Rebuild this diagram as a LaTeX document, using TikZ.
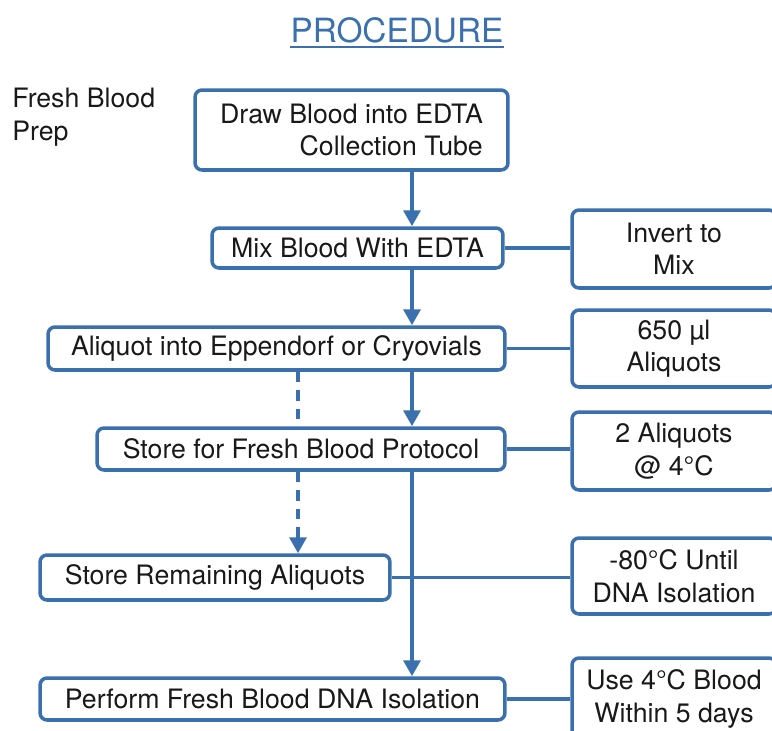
\documentclass[tikz,border=0pt]{standalone}
\usepackage{fontspec}
\setmainfont{TeX Gyre Heros}
\usepackage{xcolor}
\usepackage{tikz}
\definecolor{flowblue}{RGB}{58,112,173}
\tikzstyle{box} = [draw=flowblue, line width=2pt, rounded corners=4pt, fill=white, inner sep=0pt, text=black!90]
\tikzstyle{note} = [box, minimum width=4.08cm, align=center]
\tikzstyle{ln} = [draw=flowblue, line width=2pt, -]
\tikzstyle{arr} = [ln, -{Triangle[width=0.34cm,length=0.32cm]}]
\tikzstyle{dsh} = [dash pattern=on 6pt off 4.5pt]
\usetikzlibrary{arrows,arrows.meta,calc}

\begin{document}
\begin{tikzpicture}[x=0.02cm, y=-0.02cm]
  \tikzstyle{every node}=[font=\fontsize{15.2}{18.5}\selectfont]
  \clip (0,0) rectangle (772,731);
  \coordinate (mcol) at (412,0);
  \coordinate (dcol) at (298,0);

  \node (title) [anchor=base, inner sep=0pt, text=flowblue, font=\fontsize{19}{22}\selectfont] at (397,42) {PROCEDURE};
  \node (fbp) [anchor=north west, align=left, inner sep=0pt, text=black!90] at (12,88) {Fresh Blood\\Prep};

  \node (drawtube) [box, minimum width=6.26cm, minimum height=1.6cm, align=right] at (351.5,130) {Draw Blood into EDTA\\Collection Tube};
  \node (mix) [box, minimum width=5.82cm, minimum height=0.8cm] at (357.5,248) {Mix Blood With EDTA};
  \node (aliq) [box, minimum width=9.14cm, minimum height=0.86cm] at (276.5,348.5) {Aliquot into Eppendorf or Cryovials};
  \node (store) [box, minimum width=8.16cm, minimum height=0.84cm] at (301,449) {Store for Fresh Blood Protocol};
  \node (remain) [box, minimum width=7cm, minimum height=0.9cm] at (215,577.5) {Store Remaining Aliquots};
  \node (perform) [box, minimum width=9.3cm, minimum height=0.84cm] at (272.5,699) {Perform Fresh Blood DNA Isolation};

  \node (invert) [note, minimum height=1.56cm] at (674,249) {Invert to\\Mix};
  \node (vol) [note, minimum height=1.54cm] at (674,348.5) {650 µl\\Aliquots};
  \node (cold) [note, minimum height=1.56cm] at (674,451) {2 Aliquots\\@ 4°C};
  \node (frozen) [note, minimum height=1.52cm] at (674,576) {-80°C Until\\DNA Isolation};
  \node (use) [note, minimum height=1.64cm] at (674,699) {Use 4°C Blood\\Within 5 days};

  \draw[flowblue, line width=1.2pt] ([yshift=-2.8pt]title.base west) -- ([yshift=-2.8pt]title.base east);

  \draw[arr] (drawtube.south -| mcol) -- (mix.north -| mcol);
  \draw[arr] (mix.south -| mcol) -- (aliq.north -| mcol);
  \draw[arr] (aliq.south -| mcol) -- (store.north -| mcol);
  \draw[arr] (store.south -| mcol) -- (perform.north -| mcol);
  \draw[ln, dsh] (aliq.south -| dcol) -- (store.north -| dcol);
  \draw[arr, dsh] (store.south -| dcol) -- (remain.north -| dcol);

  \draw[ln] (mix.east) -- (mix.east -| invert.west);
  \draw[ln] (aliq.east) -- (aliq.east -| vol.west);
  \draw[ln] (store.east) -- (store.east -| cold.west);
  \draw[ln] (remain.east) -- (remain.east -| frozen.west);
  \draw[ln] (perform.east) -- (perform.east -| use.west);
\end{tikzpicture}
\end{document}
